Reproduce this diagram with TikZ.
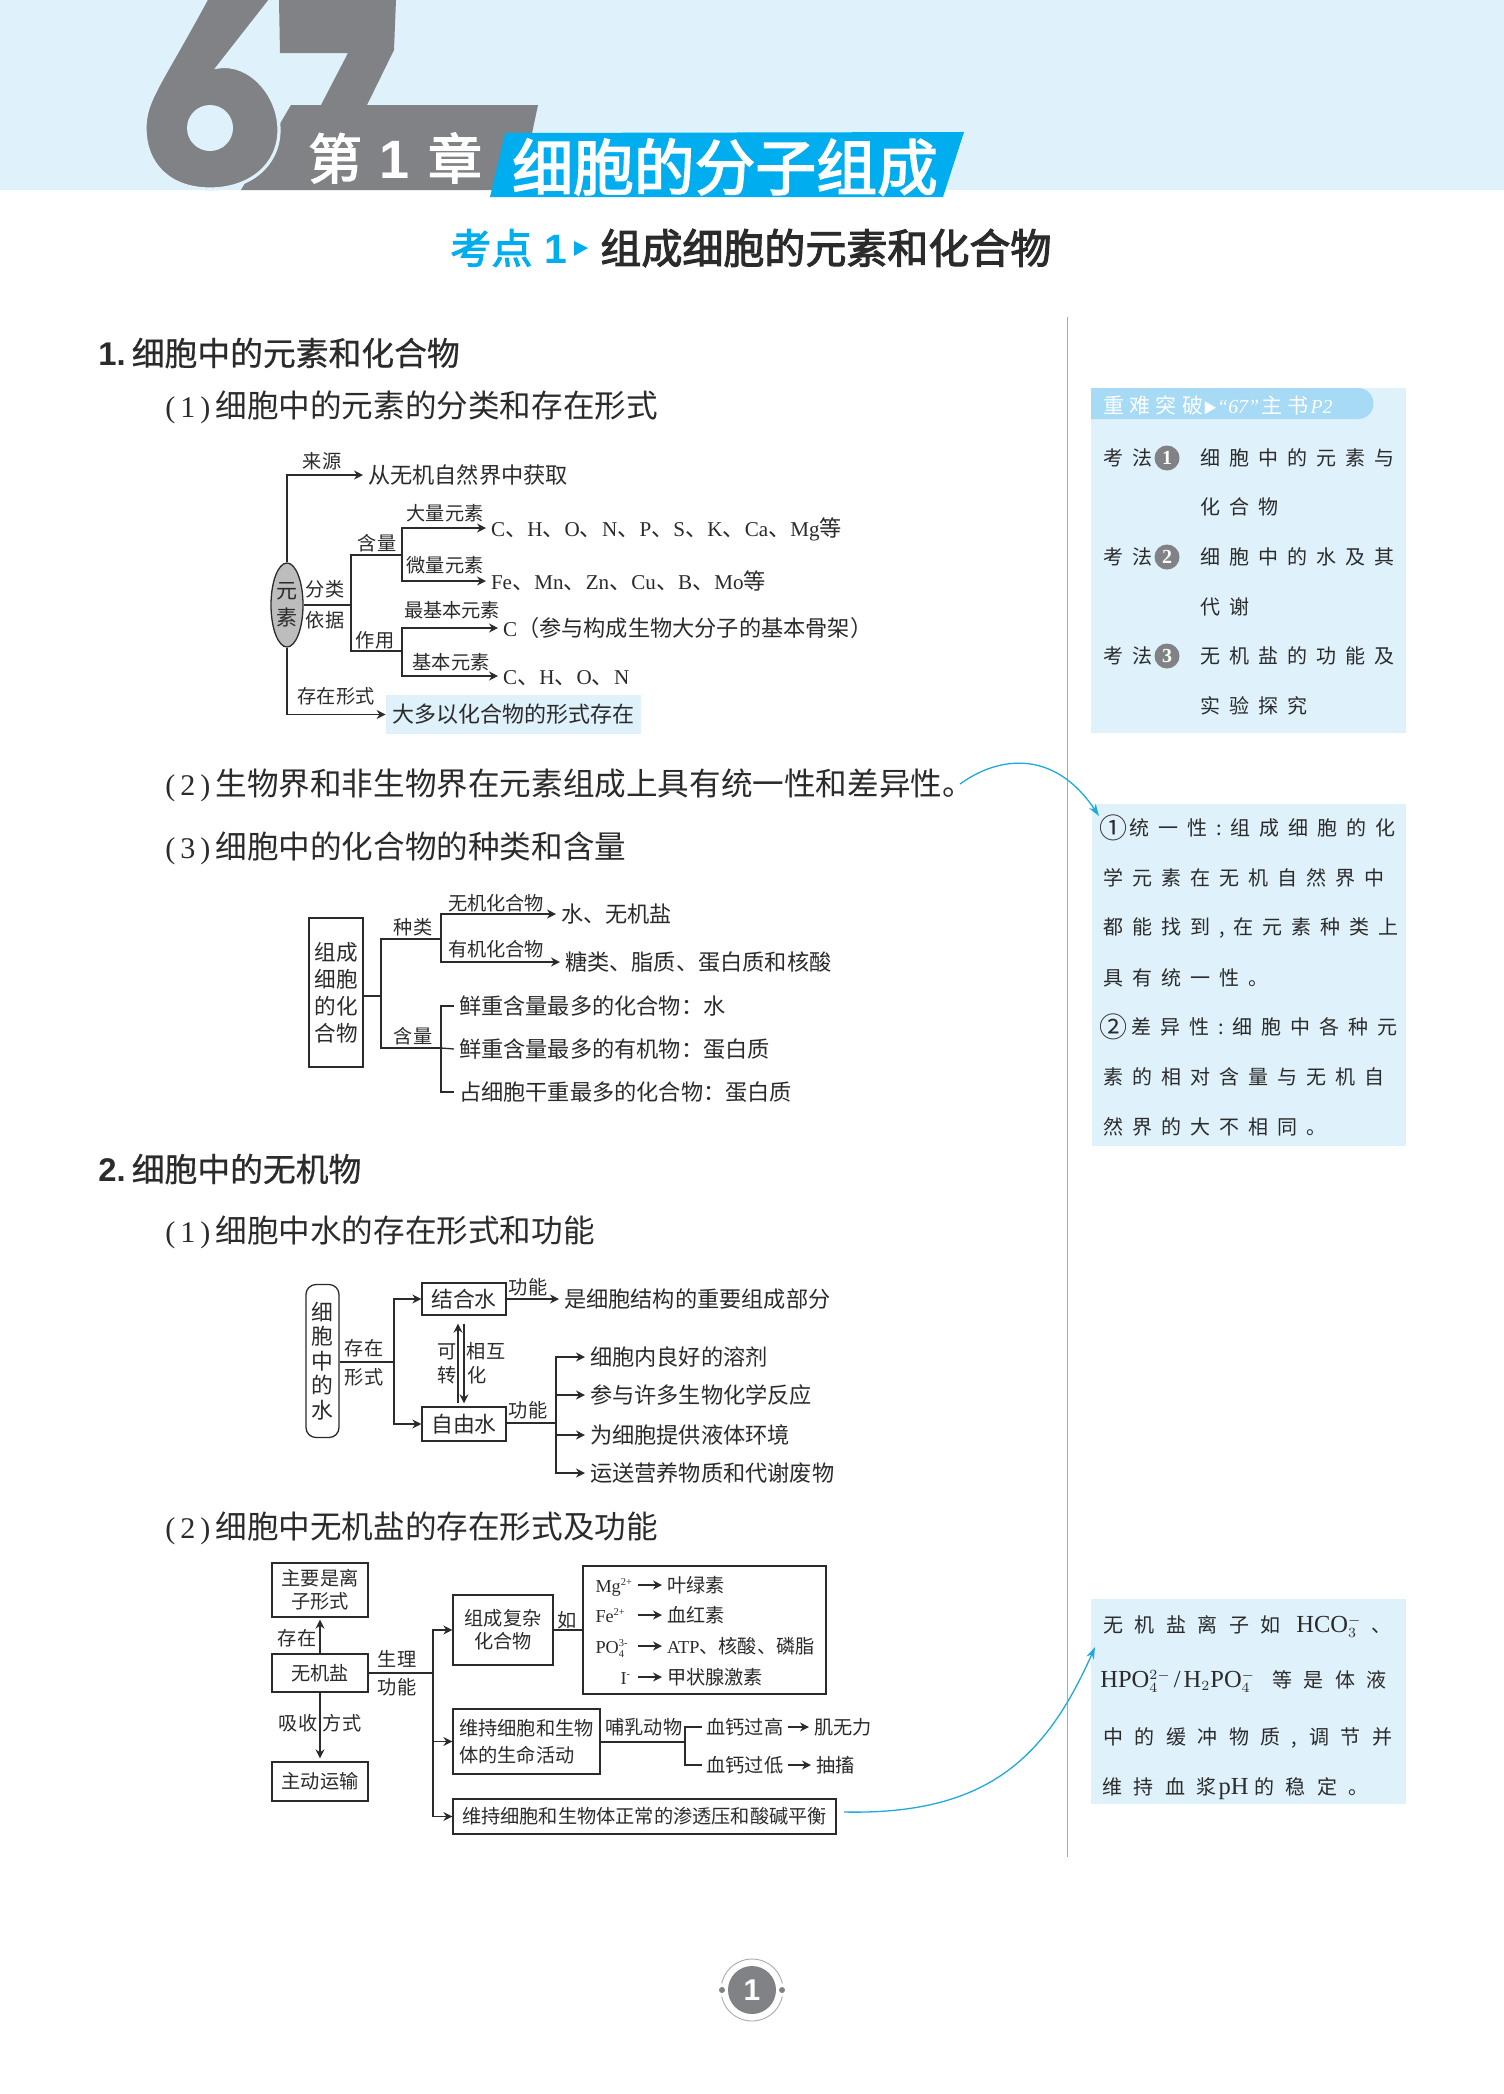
\documentclass[tikz,border=0pt]{standalone}
\usepackage{fontspec}
\usepackage{xcolor}
\usetikzlibrary{arrows.meta,shapes.geometric}
\setmainfont{Noto Sans CJK SC}
\newfontfamily\serf[Scale=.95]{Liberation Serif}
\newfontfamily\hsans{Liberation Sans}
\newfontfamily\medf[FakeBold=2.5]{Noto Sans CJK SC}
\newfontfamily\sectf[FakeBold=.6]{Noto Sans CJK SC}
\newfontfamily\nt[LetterSpace=45]{Noto Sans CJK SC}
\newfontfamily\ntw[LetterSpace=57]{Noto Sans CJK SC}
\newfontfamily\ntt[LetterSpace=25]{Noto Sans CJK SC}
\newcommand{\ionup}[1]{\raisebox{3.5pt}{\fontsize{5.5}{6}\selectfont\serf #1}}
\newcommand{\ionud}[2]{\rlap{\ionup{#1}}\raisebox{-2pt}{\fontsize{5.5}{6}\selectfont\serf #2}}
\definecolor{bandblue}{HTML}{DFF1FA}
\definecolor{barblue}{HTML}{00AEEF}
\definecolor{tabblue}{HTML}{A6DAF5}
\definecolor{curveblue}{HTML}{1FA9DC}
\definecolor{digitgray}{HTML}{808285}
\definecolor{rulegray}{HTML}{ABABAB}
\definecolor{ellgray}{HTML}{BDBDBD}
\definecolor{ink}{HTML}{2B2B2B}
\tikzset{
  lab/.style={font=\fontsize{9.6}{11}\selectfont, inner sep=0pt, text height=8.16pt, text depth=.86pt, text=ink},
  labw/.style={lab, anchor=west, outer sep=2.5pt},
  txt/.style={font=\fontsize{11.1}{13}\selectfont, inner sep=0pt, text height=9.44pt, text depth=1pt, text=ink, anchor=west, outer sep=2.5pt},
  dbox/.style={draw=ink, line width=.65pt, inner sep=0pt, align=center, text=ink, font=\fontsize{9.6}{11.5}\selectfont},
  ln/.style={draw=ink, line width=.65pt},
  arr/.style={ln, -{Stealth[length=4.5pt,width=4.5pt]}},
  sect/.style={anchor=west, inner sep=0pt, text=ink, font=\fontsize{16.4}{19}\selectfont\sectf},
  sub/.style={anchor=west, inner sep=0pt, text=ink, font=\fontsize{15.8}{19}\selectfont},
  notebox/.style={anchor=north west, fill=bandblue, inner sep=0pt},
  note/.style={anchor=west, inner sep=0pt, text height=8.5pt, text depth=.9pt, text=ink, font=\fontsize{10}{12}\selectfont\nt},
  notew/.style={note, font=\fontsize{10}{12}\selectfont\ntw},
  badge/.style={circle, fill=digitgray, inner sep=0pt, minimum size=12.5pt, text=white, font=\fontsize{10.5}{12}\selectfont\bfseries\serf},
  curve/.style={draw=curveblue, line width=.65pt, -{Stealth[length=6pt,width=4pt]}},
}
\begin{document}
\begin{tikzpicture}[x=.5pt,y=-.5pt]
  \useasboundingbox (0,0) rectangle (1504,2094);
  \fill[white] (0,0) rectangle (1504,2094);

  % Header
  \fill[bandblue] (0,0) rectangle (1504,190);
  \fill[digitgray] (279,0) -- (396,0) -- (394,50) -- (367,105) -- (321,105) -- (348,53) -- (280,53) -- cycle;
  \fill[digitgray] (291,105) -- (538,105) -- (520,190) -- (241,190) -- cycle;
  \draw[bandblue, line width=1.6pt, fill=digitgray] (207,-2) -- (272,-2) -- (218,67) .. controls (250,62) and (279,95) .. (279,130) .. controls (279,165) and (250,189) .. (210,189) .. controls (170,189) and (145,165) .. (145,128) .. controls (145,100) and (160,85) .. (207,-2) -- cycle;
  \fill[bandblue] (210,128) circle [radius=23];
  \fill[barblue] (505,133) -- (964,132) -- (943,197) -- (490,197) -- cycle;
  \node[inner sep=0pt, text=white, font=\fontsize{27}{30}\selectfont\medf] (chap) at (395,158) {第\hspace{9pt}{\hsans\bfseries 1}\hspace{9pt}章};
  \node[inner sep=0pt, text=white, font=\fontsize{30.4}{34}\selectfont\medf] (ctitle) at (725,167) {细胞的分子组成};
  \node[anchor=west, inner sep=0pt, text=barblue, font=\fontsize{20.5}{24}\selectfont\medf] (kd) at (450,248) {考点\hspace{6pt}{\hsans\bfseries 1}};
  \fill[barblue] (574,241) -- (588,248) -- (574,256) -- cycle;
  \node[anchor=west, inner sep=0pt, text=ink, font=\fontsize{20.5}{24}\selectfont\medf] (ktitle) at (600,248) {组成细胞的元素和化合物};

  % Headings
  \node[sect] (s1) at (98,353) {{\hsans\bfseries 1.}\hspace{3pt}细胞中的元素和化合物};
  \node[sub] (h11) at (165,407) {{\serf (\,1\,)}\hspace{2.5pt}细胞中的元素的分类和存在形式};
  \node[sub] (h12) at (165,785) {{\serf (\,2\,)}\hspace{2.5pt}生物界和非生物界在元素组成上具有统一性和差异性。};
  \node[sub] (h13) at (165,848) {{\serf (\,3\,)}\hspace{2.5pt}细胞中的化合物的种类和含量};
  \node[sect] (s2) at (98,1169) {{\hsans\bfseries 2.}\hspace{3pt}细胞中的无机物};
  \node[sub] (h21) at (165,1232) {{\serf (\,1\,)}\hspace{2.5pt}细胞中水的存在形式和功能};
  \node[sub] (h22) at (165,1528) {{\serf (\,2\,)}\hspace{2.5pt}细胞中无机盐的存在形式及功能};

  % Elements
  \node[ellipse, draw=ink, line width=.65pt, fill=ellgray, minimum width=16pt, minimum height=42pt, inner sep=0pt, align=center, text=ink, font=\fontsize{10.5}{13.5}\selectfont] (elem) at (287,605) {元\\素};
  \node[txt] (src) at (363,475) {从无机自然界中获取};
  \node[lab] (srcl) at (322,461) {来源};
  \node[fill=bandblue, minimum width=127.5pt, minimum height=19.5pt, inner sep=0pt, text=ink, font=\fontsize{11}{13}\selectfont] (form) at (513.5,714.5) {大多以化合物的形式存在};
  \node[lab] (forml) at (336,696) {存在形式};
  \draw[arr] (elem.north) |- (src.west);
  \draw[arr] (elem.south) |- (form.west);
  \coordinate (ej) at (351,605);
  \coordinate (eu) at (351,555);
  \coordinate (ed) at (351,651);
  \coordinate (fu) at (402,555);
  \coordinate (fd) at (402,651);
  \draw[ln] (elem.east) -- (ej);
  \draw[ln] (fu) -- (eu) -- (ed) -- (fd);
  \node[lab] (cl1) at (325,589) {分类};
  \node[lab] (cl2) at (325,620) {依据};
  \node[lab] (cl3) at (377,543) {含量};
  \node[lab] (cl4) at (375,640) {作用};
  \node[txt] (macro) at (486,528) {{\serf C}、{\serf H}、{\serf O}、{\serf N}、{\serf P}、{\serf S}、{\serf K}、{\serf Ca}、{\serf Mg}等};
  \node[txt] (micro) at (486,581) {{\serf Fe}、{\serf Mn}、{\serf Zn}、{\serf Cu}、{\serf B}、{\serf Mo}等};
  \node[txt] (most) at (498,628) {{\serf C}（参与构成生物大分子的基本骨架）};
  \node[txt] (basic) at (498,676) {{\serf C}、{\serf H}、{\serf O}、{\serf N}};
  \draw[arr] (fu) |- (macro.west);
  \draw[arr] (fu) |- (micro.west);
  \draw[arr] (fd) |- (most.west);
  \draw[arr] (fd) |- (basic.west);
  \node[lab] (macrol) at (445,513) {大量元素};
  \node[lab] (microl) at (445,565) {微量元素};
  \node[lab] (mostl) at (452,610) {最基本元素};
  \node[lab] (basicl) at (451,662) {基本元素};

  % Compounds
  \node[dbox, minimum width=27pt, minimum height=74.5pt, font=\fontsize{10.8}{13.5}\selectfont] (cpd) at (336,992.5) {组成\\细胞\\的化\\合物};
  \coordinate (cj) at (381,996);
  \coordinate (cu) at (381,939);
  \coordinate (cd) at (381,1048);
  \coordinate (gu) at (441,939);
  \coordinate (gd) at (441,1048);
  \draw[ln] (cj -| cpd.east) -- (cj);
  \draw[ln] (gu) -- (cu) -- (cd) -- (gd);
  \node[lab] (kind) at (413,927) {种类};
  \node[lab] (cont) at (413,1036) {含量};
  \node[txt] (inorg) at (556,914) {水、无机盐};
  \node[txt] (org) at (560,962) {糖类、脂质、蛋白质和核酸};
  \draw[arr] (gu) |- (inorg.west);
  \draw[arr] (gu) |- (org.west);
  \node[lab] (inorgl) at (496,903) {无机化合物};
  \node[lab] (orgl) at (496,949) {有机化合物};
  \node[txt] (fw1) at (454,1006) {鲜重含量最多的化合物：水};
  \node[txt] (fw2) at (454,1049) {鲜重含量最多的有机物：蛋白质};
  \node[txt] (dw) at (454,1092) {占细胞干重最多的化合物：蛋白质};
  \draw[ln] (gd) |- (fw1.west);
  \draw[ln] (gd) -- (fw2.west);
  \draw[ln] (gd) |- (dw.west);

  % Water
  \node[dbox, rounded corners=5pt, minimum width=16.5pt, minimum height=76.5pt, font=\fontsize{10.9}{12.2}\selectfont] (water) at (322.5,1361) {细\\胞\\中\\的\\水};
  \node[dbox, minimum width=42pt, minimum height=16pt, font=\fontsize{10.9}{13}\selectfont] (bound) at (464,1299) {结合水};
  \node[dbox, minimum width=42pt, minimum height=17pt, font=\fontsize{10.9}{13}\selectfont] (free) at (464,1424) {自由水};
  \coordinate (wj) at (394,1362);
  \draw[ln] (water.east |- wj) -- (wj);
  \draw[arr] (wj) |- (bound.west);
  \draw[arr] (wj) |- (free.west);
  \node[lab] (wl1) at (364,1348) {存在};
  \node[lab] (wl2) at (364,1377) {形式};
  \draw[arr, shorten >=4pt, shorten <=1.5pt] ([xshift=-3pt]free.north) -- ([xshift=-3pt]bound.south);
  \draw[arr, shorten >=1.5pt, shorten <=4pt] (bound.south) -- (free.north);
  \node[lab] (tr1) at (447,1351) {可};
  \node[lab] (tr2) at (447,1375) {转};
  \node[lab] (tr3) at (486,1351) {相互};
  \node[lab] (tr4) at (477,1375) {化};
  \node[txt] (bfn) at (559,1299) {是细胞结构的重要组成部分};
  \draw[arr] (bound.east) -- (bfn.west);
  \node[lab] (bfl) at (528,1287) {功能};
  \coordinate (fj) at (556,1423);
  \draw[ln] (free.east |- fj) -- (fj);
  \node[lab] (ffl) at (528,1410) {功能};
  \node[txt] (ff1) at (585,1357) {细胞内良好的溶剂};
  \node[txt] (ff2) at (585,1395) {参与许多生物化学反应};
  \node[txt] (ff3) at (585,1435) {为细胞提供液体环境};
  \node[txt] (ff4) at (585,1473) {运送营养物质和代谢废物};
  \draw[arr] (fj) |- (ff1.west);
  \draw[arr] (fj) |- (ff2.west);
  \draw[arr] (fj) |- (ff3.west);
  \draw[arr] (fj) |- (ff4.west);

  % Inorganic salts
  \node[dbox, minimum width=48pt, minimum height=27pt] (ionic) at (320,1590) {主要是离\\子形式};
  \node[dbox, minimum width=48pt, minimum height=19pt] (salt) at (320,1673) {无机盐};
  \node[dbox, minimum width=48pt, minimum height=19.5pt] (active) at (320,1781.5) {主动运输};
  \draw[arr, shorten >=1pt] (salt.north) -- (ionic.south);
  \draw[arr, shorten >=1.5pt] (salt.south) -- (active.north);
  \node[lab] (sl1) at (297,1638) {存在};
  \node[lab] (sl2) at (298,1723) {吸收};
  \node[lab] (sl3) at (342,1723) {方式};
  \node[lab] (sl4) at (397,1659) {生理};
  \node[lab] (sl5) at (397,1687) {功能};
  \coordinate (bj) at (433,1673);
  \node[dbox, minimum width=50pt, minimum height=35pt] (complex) at (503,1630) {组成复杂\\化合物};
  \node[dbox, align=left, minimum width=73.5pt, minimum height=32.5pt, font=\fontsize{9.6}{13.5}\selectfont] (life) at (526.5,1741.5) {维持细胞和生物\\体的生命活动};
  \node[dbox, minimum width=191.5pt, minimum height=17.5pt] (osm) at (644.5,1816.5) {维持细胞和生物体正常的渗透压和酸碱平衡};
  \draw[ln] (salt.east) -- (bj);
  \draw[arr] (bj) |- (complex.west);
  \draw[arr] (bj) |- (life.west);
  \draw[arr] (bj) |- (osm.west);
  \node[dbox, minimum width=121.5pt, minimum height=64pt] (ions) at (704.5,1630) {};
  \draw[ln] (complex.east) -- (ions.west);
  \node[lab] (ru) at (567,1620) {如};
  \node[labw] (mg) at (590.5,1585) {{\serf Mg}\ionup{2+}};
  \node[labw] (fe) at (590.5,1615) {{\serf Fe}\ionup{2+}};
  \node[labw] (po) at (590.5,1646) {{\serf PO}\ionud{3-}{4}};
  \node[labw] (io) at (615.5,1677) {{\serf I}\ionup{-}};
  \node[labw] (mgt) at (662,1585) {叶绿素};
  \node[labw] (fet) at (662,1615) {血红素};
  \node[labw] (pot) at (662,1646) {{\serf ATP}、核酸、磷脂};
  \node[labw] (iot) at (662,1677) {甲状腺激素};
  \coordinate (ia) at (638,1630);
  \draw[arr] (ia |- mgt.west) -- (mgt.west);
  \draw[arr] (ia |- fet.west) -- (fet.west);
  \draw[arr] (ia |- pot.west) -- (pot.west);
  \draw[arr] (ia |- iot.west) -- (iot.west);
  \coordinate (mj) at (685,1742);
  \draw[ln] (life.east |- mj) -- (mj);
  \node[lab, anchor=west] (mam) at (605,1727) {哺乳动物};
  \node[labw] (hi) at (701.5,1727) {血钙过高};
  \node[labw] (lo) at (701.5,1765) {血钙过低};
  \draw[ln] (mj) |- (hi.west);
  \draw[ln] (mj) |- (lo.west);
  \node[labw] (hit) at (809,1727) {肌无力};
  \node[labw] (lot) at (811,1765) {抽搐};
  \draw[arr] (hi.east) -- (hit.west);
  \draw[arr] (lo.east) -- (lot.west);

  % Side column
  \coordinate (ra) at (1067,317);
  \coordinate (rb) at (1067,1857);
  \draw[rulegray, line width=.45pt] (ra) -- (rb);
  \node[notebox, minimum width=157.5pt, minimum height=172.5pt] (nb1) at (1091,388) {};
  \fill[tabblue] (1091,388) -- (1358,388) arc[start angle=90, end angle=-90, radius=7.75pt] -- (1091,419) -- cycle;
  \node[anchor=west, inner sep=0pt, text=white, font=\fontsize{10.5}{12}\selectfont\ntt] (tabt) at (1103,405) {重难突破{\fontsize{7}{8}\selectfont ▶}{\serf\itshape “67”}\hspace{1pt}主书\hspace{1pt}{\serf\itshape P2}};
  \node[note] (m1) at (1103,458) {考法};
  \node[badge] (b1) at (1167,458) {1};
  \node[note] (m1a) at (1200,458) {细胞中的元素与};
  \node[note] (m1b) at (1200,507) {化合物};
  \node[note] (m2) at (1103,557) {考法};
  \node[badge] (b2) at (1167,557) {2};
  \node[note] (m2a) at (1200,557) {细胞中的水及其};
  \node[note] (m2b) at (1200,607) {代谢};
  \node[note] (m3) at (1103,656) {考法};
  \node[badge] (b3) at (1167,656) {3};
  \node[note] (m3a) at (1200,656) {无机盐的功能及};
  \node[note] (m3b) at (1200,706) {实验探究};

  \node[notebox, minimum width=157pt, minimum height=171pt] (nb2) at (1092,804) {};
  \node[note] (u1) at (1099,828) {\raisebox{-1.5pt}{\rmfamily\fontsize{14}{14}\selectfont ①}\hspace{1pt}统一性:组成细胞的化};
  \node[note] (u2) at (1103,878) {学元素在无机自然界中};
  \node[note] (u3) at (1103,927) {都能找到,在元素种类上};
  \node[note] (u4) at (1103,978) {具有统一性。};
  \node[note] (u5) at (1099,1027) {\raisebox{-1.5pt}{\rmfamily\fontsize{14}{14}\selectfont ②}\hspace{2pt}差异性:细胞中各种元};
  \node[note] (u6) at (1103,1077) {素的相对含量与无机自};
  \node[note] (u7) at (1103,1127) {然界的大不相同。};

  \node[notebox, minimum width=157.5pt, minimum height=102.5pt] (nb3) at (1091,1599) {};
  \node[notew] (w1) at (1103,1625) {无机盐离子如\hspace{8pt}{\fontsize{12.9}{14}\selectfont\serf HCO}$_3^-$\hspace{5pt}、};
  \node[note] (w2) at (1100,1680) {{\fontsize{12.9}{14}\selectfont\serf HPO}$_4^{2-}$\hspace{1.5pt}{\fontsize{12.9}{14}\selectfont\serf /\hspace{1.5pt}H}$_2${\fontsize{12.9}{14}\selectfont\serf PO}$_4^-$\hspace{8.5pt}{\ntw 等是体液}};
  \node[notew] (w3) at (1103,1737) {中的缓冲物质,\hspace{6pt}调节并};
  \node[notew] (w4) at (1102,1787) {维持血浆\hspace{1pt}{\fontsize{12.9}{14}\selectfont\serf pH}\hspace{3pt}的稳定。};

  % Curved links
  \coordinate (qa) at (960,784);
  \coordinate (qb) at (1099,816);
  \coordinate (qc) at (844,1812);
  \coordinate (qd) at (1095,1647);
  \draw[curve] (qa) .. controls (1000,755) and (1055,750) .. (qb);
  \draw[curve] (qc) .. controls (985,1815) and (1045,1760) .. (qd);

  % Page number
  \node[circle, fill=digitgray, minimum size=24pt, inner sep=0pt, text=white, font=\fontsize{15}{17}\selectfont\hsans\bfseries] (pgn) at (752,1990) {1};
  \node[circle, fill=digitgray, minimum size=3pt, inner sep=0pt] (dl) at (722,1990) {};
  \node[circle, fill=digitgray, minimum size=3pt, inner sep=0pt] (dr) at (782,1990) {};
  \draw[rulegray, line width=.45pt] ([shift={(12:15.5pt)}]pgn.center) arc[start angle=12, end angle=168, radius=15.5pt];
  \draw[rulegray, line width=.45pt] ([shift={(192:15.5pt)}]pgn.center) arc[start angle=192, end angle=348, radius=15.5pt];
\end{tikzpicture}
\end{document}
